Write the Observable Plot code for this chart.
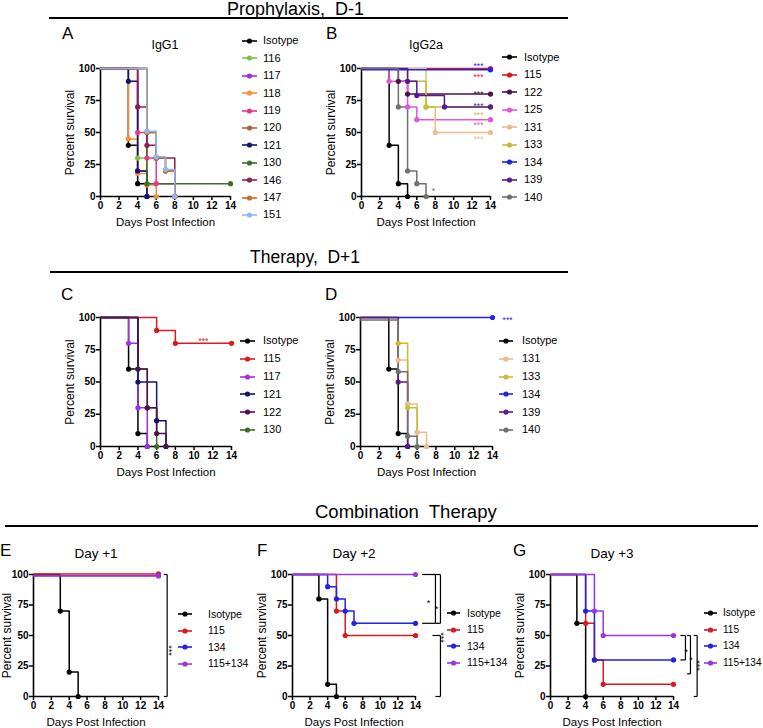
<!DOCTYPE html>
<html><head><meta charset="utf-8">
<script src="https://cdn.jsdelivr.net/npm/d3@7"></script>
<script src="https://cdn.jsdelivr.net/npm/@observablehq/plot@0.6"></script>
<style>
html,body{margin:0;padding:0;background:#fff;}
#root{position:relative;width:763px;height:728px;overflow:hidden;font-family:"Liberation Sans",Arial,Helvetica,sans-serif;color:#000;}
.abs{position:absolute;white-space:pre;line-height:1;}
.hrule{position:absolute;background:#000;height:2px;}
.plot{position:absolute;}
.row{position:absolute;display:flex;align-items:center;white-space:pre;line-height:1;}
</style></head>
<body><div id="root"></div>
<script>
// ---------------- DATA ----------------
const xTicks = [0, 2, 4, 6, 8, 10, 12, 14];
const yTicks = [0, 25, 50, 75, 100];

// Panel A: Prophylaxis D-1, IgG1
const aGroups = ["Isotype", "116", "117", "118", "119", "120", "121", "130", "146", "147", "151"];
const aDays = [[0,3,4,5],[0,4,5],[0,4,5],[0,3,4,5,6],[0,4,5,6,8],[0,5,6,7,8],[0,3,4,5],[0,5,14],[0,4,5,6,8],[0,5,6,7,8],[0,5,6,7,8]];
const aSurv = [[100,40,10,0],[100,30,0],[100,20,0],[100,45,18,9,0],[100,50,30,10,0],[100,50,30,20,0],[100,90,20,0],[100,10,10],[100,70,40,30,0],[100,50,30,20,0],[100,51,31,21,0]];

// Panel B: Prophylaxis D-1, IgG2a
const bGroups = ["Isotype", "115", "122", "125", "131", "133", "134", "139", "140"];
const bDays = [[0,3,4,5],[0,14],[0,4,5,14],[0,3,5,6,14],[0,7,8,14],[0,5,7,14],[0,14],[0,5,6,9,14],[0,4,5,6,7]];
const bSurv = [[100,40,10,0],[100,100],[100,90,80,80],[100,90,70,60,60],[100,70,50,50],[100,90,70,70],[99,99],[100,90,79,70,70],[100,70,20,10,0]];
const bStars = [
  {g:"134", day:12.7, s:103.7, t:"***"}, {g:"115", day:12.7, s:95, t:"***"},
  {g:"122", day:12.7, s:82, t:"***"}, {g:"139", day:12.7, s:72.6, t:"***"},
  {g:"133", day:12.7, s:65.8, t:"***"}, {g:"125", day:12.7, s:57.3, t:"***"},
  {g:"131", day:12.7, s:46.3, t:"***"}, {g:"140", day:7.8, s:6, t:"*"}];

// Panel C: Therapy D+1
const cGroups = ["Isotype", "115", "117", "121", "122", "130"];
const cDays = [[0,3,4,5],[0,6,8,14],[0,3,4,5],[0,4,6,7],[0,4,5,6,7],[0,4,5,6]];
const cSurv = [[100,60,10,0],[100,90,80,80],[100,80,30,0],[100,50,20,0],[100,60,30,10,0],[100,60,30,0]];
const cStars = [{g:"115", day:11, s:83.5, t:"***"}];

// Panel D: Therapy D+1
const dGroups = ["Isotype", "131", "133", "134", "139", "140"];
const dDays = [[0,3,4,5],[0,4,5,6,7],[0,4,5,6],[0,14],[0,4,5],[0,4,5,6]];
const dSurv = [[100,60,10,0],[100,67,33,11,0],[100,80,30,0],[100,100],[100,50,0],[98,58,8,0]];
const dStars = [{g:"134", day:15.6, s:99.5, t:"***"}];

// Panels E-G: Combination therapy
const comboGroups = ["Isotype", "115", "134", "115+134"];
const eDays = [[0,3,4,5],[0,14],[0,14],[0,14]];
const eSurv = [[100,70,20,0],[100.5,100.5],[99,99],[99,99]];
const fDays = [[0,3,4,5],[0,5,6,14],[0,4,5,6,7,14],[0,14]];
const fSurv = [[100,80,10,0],[100,70,50,50],[100,90,80,70,60,60],[100,100]];
const gDays = [[0,3,4],[0,4,5,6,14],[0,4,5,14],[0,5,6,14]];
const gSurv = [[100,60,0],[100,60,30,10,10],[100,70,30,30],[100,70,50,50]];

// significance brackets (data coordinates) and their labels
const eBrackets = [{x:14.97, y1:100, y2:0, t1:14.6, t2:14.6}];
const fBrackets = [{x:16.27, y1:100, y2:60, t1:14.75, t2:14.75},
                   {x:16.84, y1:100, y2:60, t1:15.93, t2:16.27},
                   {x:16.84, y1:50, y2:0, t1:15.93, t2:16.27}];
const gBrackets = [{x:15.36, y1:50, y2:30, t1:14.79, t2:14.79},
                   {x:15.93, y1:50, y2:18.6, t1:15.55, t2:15.55},
                   {x:16.69, y1:50, y2:0, t1:16.3, t2:16.3}];
const eSig = [{day:15.53, s:37.7, t:"***", rot:true}];
const fSig = [{day:15.47, s:78.7, t:"*"}, {day:16.38, s:73.8, t:"*"}, {day:17.18, s:48.4, t:"***", rot:true}];
const gSig = [{day:15.45, s:39, t:"*"}, {day:16.0, s:32, t:"*"}, {day:17.06, s:25.4, t:"***", rot:true}];

// ---------------- STYLE ----------------
const palette = {
  "Isotype":"#000000", "115":"#d91a1f", "116":"#7dc243", "117":"#a030e6", "118":"#f0903a",
  "119":"#e8368e", "120":"#9a6a3c", "121":"#13136e", "122":"#4e104e", "125":"#e058d6",
  "130":"#3e6d25", "131":"#e9bb8d", "133":"#c5bc37", "134":"#1f22e8", "139":"#5b1a8c",
  "140":"#707070", "146":"#8e1d55", "147":"#c4702a", "151":"#8fb6ee", "115+134":"#9a36e0"};
const FONT = '"Liberation Sans", Arial, Helvetica, sans-serif';
const root = document.getElementById("root");

function rowsOf(groups, days, surv, under) {
  const order = groups.map((g, i) => i);
  if (under) order.sort((a, b) => (under.includes(groups[b]) ? 1 : 0) - (under.includes(groups[a]) ? 1 : 0));
  const rows = [];
  order.forEach(i => days[i].forEach((d, j) => rows.push({g: groups[i], day: d, s: surv[i][j], j})));
  return rows;
}

function survivalPanel(cfg) {
  const rows = rowsOf(cfg.groups, cfg.days, cfg.surv, cfg.under);
  const dots = rows.filter(r => r.j > 0);
  const segs = [];
  (cfg.brackets || []).forEach(b => {
    segs.push({x1:b.t1, y1:b.y1, x2:b.x, y2:b.y1});
    segs.push({x1:b.x, y1:b.y1, x2:b.x, y2:b.y2});
    segs.push({x1:b.t2, y1:b.y2, x2:b.x, y2:b.y2});
  });
  const sig = cfg.sig || [];
  const chart = Plot.plot({
    width: cfg.width, height: cfg.height,
    marginLeft: cfg.mL, marginRight: cfg.mR, marginTop: cfg.mT, marginBottom: cfg.mB,
    style: {background: "transparent", fontFamily: FONT, overflow: "visible", color: "#000"},
    x: {domain: [0, 14], label: null},
    y: {domain: [0, 100], label: null},
    color: {type: "ordinal", domain: Object.keys(palette), range: Object.values(palette)},
    marks: [
      Plot.axisX({ticks: xTicks, tickSize: 4, tickPadding: 1, fontSize: 10, fontWeight: "bold", strokeWidth: 1.5, label: null}),
      Plot.axisY({ticks: yTicks, tickSize: 4, tickPadding: 1, fontSize: 10, fontWeight: "bold", strokeWidth: 1.5, label: null}),
      Plot.ruleX([0], {strokeWidth: 1.6}),
      Plot.ruleY([0], {strokeWidth: 1.6}),
      Plot.line(rows, {x: "day", y: "s", z: "g", stroke: "g", curve: "step-after", strokeWidth: 1.5}),
      Plot.dot(dots, {x: "day", y: "s", fill: "g", r: 2.6}),
      Plot.text(cfg.stars || [], {x: "day", y: "s", text: "t", fill: "g", fontSize: 8.5, dy: 2.5}),
      Plot.link(segs, {x1: "x1", y1: "y1", x2: "x2", y2: "y2", stroke: "#000", strokeWidth: 1.2}),
      Plot.text(sig.filter(d => !d.rot), {x: "day", y: "s", text: "t", fill: "#000", fontSize: 9, dy: 3}),
      Plot.text(sig.filter(d => d.rot), {x: "day", y: "s", text: "t", fill: "#000", fontSize: 9, rotate: 90, dx: -3}),
      Plot.text(["Percent survival"], {text: d => d, frameAnchor: "left", textAnchor: "middle", lineAnchor: "middle", dx: cfg.ylabDx, rotate: -90, fontSize: 12}),
      Plot.text(["Days Post Infection"], {text: d => d, frameAnchor: "bottom", textAnchor: "middle", lineAnchor: "middle", dy: 26, fontSize: 11.5})
    ]
  });
  chart.classList.add("plot");
  chart.style.left = cfg.left + "px";
  chart.style.top = cfg.top + "px";
  chart.style.position = "absolute";
  root.appendChild(chart);
}

function legend(groups, L) {
  groups.forEach((g, i) => {
    const row = document.createElement("div");
    row.className = "row";
    row.style.left = L.x0 + "px";
    row.style.top = (L.y0 + i * L.step - L.step / 2) + "px";
    row.style.height = L.step + "px";
    const w = L.x1 - L.x0;
    const c = palette[g];
    row.innerHTML = `<svg width="${w}" height="8" style="display:block"><line x1="0" y1="4" x2="${w}" y2="4" stroke="${c}" stroke-width="1.6"/><circle cx="${w/2}" cy="4" r="2.6" fill="${c}"/></svg><span style="margin-left:${L.tx - L.x1}px;font-size:${L.fs}px">${g}</span>`;
    root.appendChild(row);
  });
}

function label(text, {left, top, size, center, weight}) {
  const d = document.createElement("div");
  d.className = "abs";
  d.textContent = text;
  d.style.fontSize = size + "px";
  d.style.top = top + "px";
  if (weight) d.style.fontWeight = weight;
  if (center != null) { d.style.left = center + "px"; d.style.transform = "translateX(-50%)"; }
  else d.style.left = left + "px";
  root.appendChild(d);
}
function hrule(x0, x1, y) {
  const d = document.createElement("div");
  d.className = "hrule";
  d.style.left = x0 + "px"; d.style.width = (x1 - x0) + "px"; d.style.top = y + "px";
  root.appendChild(d);
}

// ---------------- PANELS ----------------
survivalPanel({groups: aGroups, days: aDays, surv: aSurv, left: 40, top: 55, width: 200, height: 185, mL: 60, mR: 10, mT: 13, mB: 44, ylabDx: -30});
survivalPanel({groups: bGroups, days: bDays, surv: bSurv, stars: bStars, left: 300, top: 55, width: 200, height: 185, mL: 61, mR: 10, mT: 13, mB: 44, ylabDx: -30});
survivalPanel({groups: cGroups, days: cDays, surv: cSurv, stars: cStars, under: ["130"], left: 40, top: 300, width: 200, height: 190, mL: 60, mR: 9, mT: 17, mB: 44, ylabDx: -30});
survivalPanel({groups: dGroups, days: dDays, surv: dSurv, stars: dStars, left: 300, top: 300, width: 225, height: 190, mL: 60, mR: 33, mT: 17, mB: 44, ylabDx: -30});
survivalPanel({groups: comboGroups, days: eDays, surv: eSurv, brackets: eBrackets, sig: eSig, left: 0, top: 560, width: 185, height: 168, mL: 33, mR: 27, mT: 14, mB: 32, ylabDx: -26});
survivalPanel({groups: comboGroups, days: fDays, surv: fSurv, brackets: fBrackets, sig: fSig, left: 255, top: 560, width: 200, height: 168, mL: 37, mR: 40, mT: 14, mB: 32, ylabDx: -30});
survivalPanel({groups: comboGroups, days: gDays, surv: gSurv, brackets: gBrackets, sig: gSig, left: 505, top: 560, width: 200, height: 168, mL: 45, mR: 32, mT: 14, mB: 32, ylabDx: -30});

// legends
legend(aGroups, {x0: 242, x1: 257, tx: 263, y0: 41, step: 17.4, fs: 11});
legend(bGroups, {x0: 502, x1: 517, tx: 524, y0: 57, step: 17.5, fs: 11});
legend(cGroups, {x0: 240, x1: 255, tx: 263, y0: 341, step: 17.8, fs: 11});
legend(dGroups, {x0: 499, x1: 513, tx: 522, y0: 341, step: 17.8, fs: 11});
legend(comboGroups, {x0: 178, x1: 192, tx: 208, y0: 614, step: 16.5, fs: 10.5});
legend(comboGroups, {x0: 447, x1: 460, tx: 467, y0: 613, step: 16.5, fs: 10.5});
legend(comboGroups, {x0: 704, x1: 717, tx: 723, y0: 613, step: 16.5, fs: 10});

// section headers
label("Prophylaxis,  D-1", {left: 227, top: 0, size: 18});
hrule(49, 568, 17);
label("Therapy,  D+1", {left: 250, top: 248.5, size: 17.5});
hrule(50, 568, 271);
label("Combination  Therapy", {left: 315, top: 502.6, size: 18.5});
hrule(5, 758, 525);

// panel letters
label("A", {left: 62, top: 24.6, size: 17});
label("B", {left: 326, top: 24.6, size: 17});
label("C", {left: 61, top: 285.6, size: 17});
label("D", {left: 325, top: 285.6, size: 17});
label("E", {left: 0, top: 542, size: 17});
label("F", {left: 257, top: 542, size: 17});
label("G", {left: 513, top: 542, size: 17});

// panel titles
label("IgG1", {center: 165, top: 39.4, size: 12.5});
label("IgG2a", {center: 426, top: 39.4, size: 12.5});
label("Day +1", {center: 96, top: 547, size: 13.5});
label("Day +2", {center: 354, top: 547, size: 13.5});
label("Day +3", {center: 612, top: 547, size: 13.5});
</script></body></html>
